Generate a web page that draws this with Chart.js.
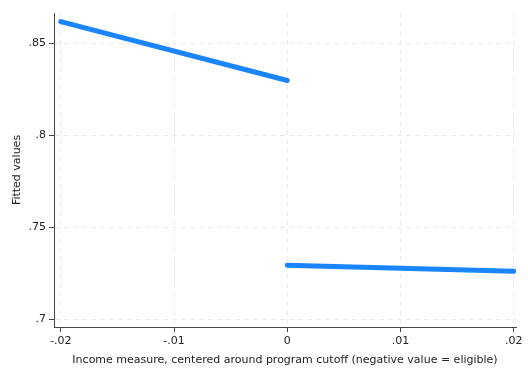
<!DOCTYPE html>
<html>
<head>
<meta charset="utf-8">
<script src="https://cdn.jsdelivr.net/npm/chart.js@4/dist/chart.umd.min.js"></script>
<style>
  html, body { margin: 0; padding: 0; background: #fff; }
  #wrap { width: 528px; height: 384px; }
</style>
</head>
<body>
<div id="wrap"><canvas id="chartCanvas" width="528" height="384"></canvas></div>
<script>
// fitted lines on each side of the cutoff
var leftX = [-0.02, 0];
var leftY = [0.8616, 0.8297];
var rightX = [0, 0.02];
var rightY = [0.7295, 0.7262];

var xTicks = [-0.02, -0.01, 0, 0.01, 0.02];
var yTicks = [0.7, 0.75, 0.8, 0.85];

function toPoints(xs, ys) {
    var pts = [];
    for (var i = 0; i < xs.length; i++) pts.push({ x: xs[i], y: ys[i] });
    return pts;
}

function stataLabel(v) {
    var s = String(Math.round(v * 1000) / 1000);
    return s.replace(/^(-?)0\./, '$1.');
}

var fontFam = "'DejaVu Sans', sans-serif";
var lineColor = '#1a85ff';
var gridColor = '#ebebeb';
var axisColor = '#444';

var ctx = document.getElementById('chartCanvas').getContext('2d');

var chartConfig = {
    type: 'scatter',
    data: {
        datasets: [
            {
                data: toPoints(leftX, leftY),
                showLine: true,
                borderColor: lineColor,
                borderWidth: 5,
                borderCapStyle: 'round',
                pointRadius: 0
            },
            {
                data: toPoints(rightX, rightY),
                showLine: true,
                borderColor: lineColor,
                borderWidth: 5,
                borderCapStyle: 'round',
                pointRadius: 0
            }
        ]
    },
    options: {
        responsive: false,
        animation: false,
        layout: { padding: { top: 13, right: 12, left: 0, bottom: 0 } },
        plugins: {
            legend: { display: false },
            tooltip: { enabled: false }
        },
        scales: {
            x: {
                type: 'linear',
                min: -0.0206,
                max: 0.0202,
                afterBuildTicks: function (axis) {
                    axis.ticks = xTicks.map(function (v) { return { value: v }; });
                },
                afterFit: function (axis) { axis.height = 57; },
                ticks: {
                    callback: function (v) { return stataLabel(v); },
                    color: '#222',
                    font: { family: fontFam, size: 11 },
                    padding: 3,
                    maxRotation: 0,
                    autoSkip: false
                },
                grid: {
                    color: gridColor,
                    lineWidth: 1,
                    drawTicks: true,
                    tickLength: 5,
                    tickColor: axisColor
                },
                border: { display: true, color: axisColor, width: 1, dash: [5, 4] },
                title: {
                    display: true,
                    text: 'Income measure, centered around program cutoff (negative value = eligible)',
                    color: '#222',
                    font: { family: fontFam, size: 11 },
                    padding: { top: 17, bottom: 17 }
                }
            },
            y: {
                type: 'linear',
                min: 0.696,
                max: 0.8663,
                afterBuildTicks: function (axis) {
                    axis.ticks = yTicks.map(function (v) { return { value: v }; });
                },
                afterFit: function (axis) { axis.width = 54; },
                ticks: {
                    callback: function (v) { return stataLabel(v); },
                    color: '#222',
                    font: { family: fontFam, size: 11 },
                    padding: 3,
                    autoSkip: false
                },
                grid: {
                    color: gridColor,
                    lineWidth: 1,
                    drawTicks: true,
                    tickLength: 5,
                    tickColor: axisColor
                },
                border: { display: true, color: axisColor, width: 1, dash: [5, 4] },
                title: {
                    display: true,
                    text: 'Fitted values',
                    color: '#222',
                    font: { family: fontFam, size: 11 },
                    padding: { top: 11, bottom: 11 }
                }
            }
        }
    }
};

var chart = new Chart(ctx, chartConfig);
</script>
</body>
</html>
